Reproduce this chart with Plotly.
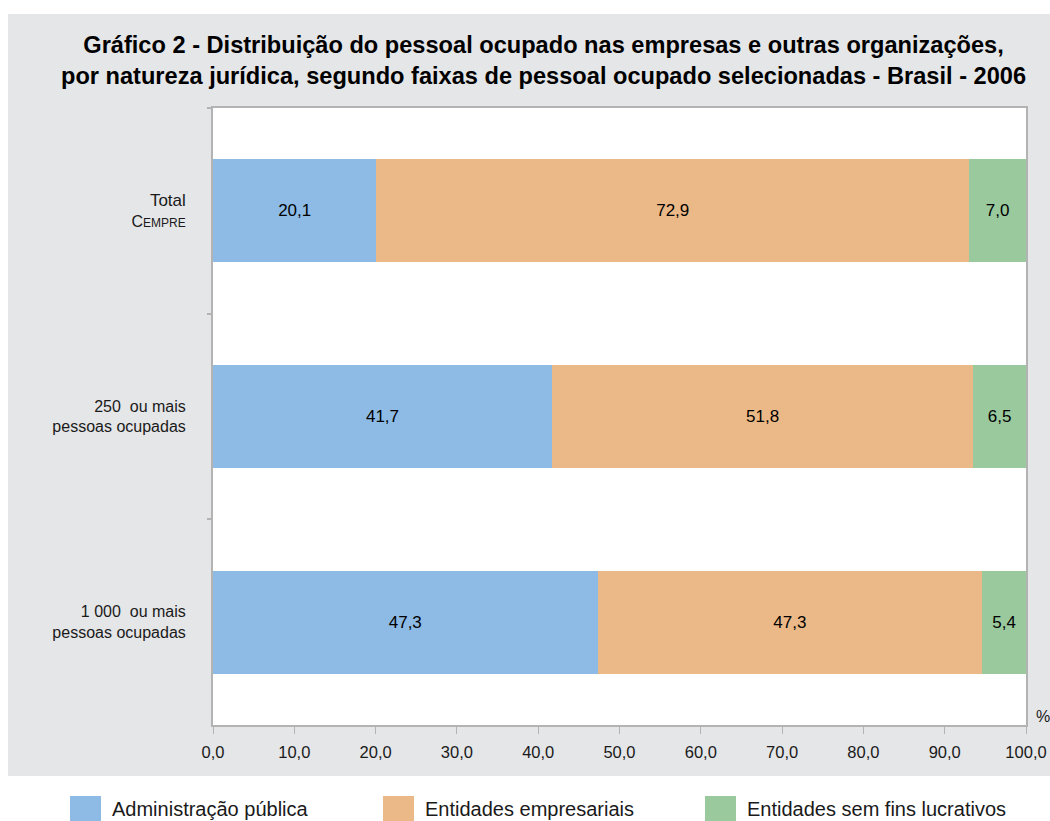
import plotly.graph_objects as go

categories = ["<span style='font-size:17px'>Total</span><br><span style='font-size:16px'>C</span><span style='font-size:12px'>EMPRE</span>",
              "250  ou mais<br>pessoas ocupadas",
              "1 000  ou mais<br>pessoas ocupadas"]
series_names = ["Administração pública", "Entidades empresariais", "Entidades sem fins lucrativos"]
adm_publica = [20.1, 41.7, 47.3]
ent_empresariais = [72.9, 51.8, 47.3]
ent_sem_fins = [7.0, 6.5, 5.4]
x_ticks = [0, 10, 20, 30, 40, 50, 60, 70, 80, 90, 100]
colors = ["#8dbbe6", "#ebb987", "#99c99d"]

W, H = 1050, 821
L, R, T, B = 213, 1026, 108, 725
pw, ph = R - L, B - T

def xp(px):
    return (px - L) / pw

def yp(py):
    return (B - py) / ph

font = "Liberation Sans, Arial, sans-serif"
fig = go.Figure()
for name, vals, col in zip(series_names, [adm_publica, ent_empresariais, ent_sem_fins], colors):
    fig.add_trace(go.Bar(
        y=categories, x=vals, name=name, orientation="h",
        marker=dict(color=col, line=dict(width=0)),
        texttemplate="%{x:.1f}", textposition="inside", insidetextanchor="middle",
        textangle=0, textfont=dict(size=17, color="black", family=font),
        width=0.5, showlegend=False,
    ))

shapes = [dict(type="rect", xref="paper", yref="paper", x0=xp(8), x1=xp(1060),
               y0=yp(776), y1=yp(14), fillcolor="#e5e6e8", line=dict(width=0), layer="below"),
          dict(type="rect", xref="paper", yref="paper", x0=0, x1=1, y0=0, y1=1,
               fillcolor="white", line=dict(width=0), layer="below")]
annotations = []
leg_sq = [70, 383, 705]
for sx, name, col in zip(leg_sq, series_names, colors):
    shapes.append(dict(type="rect", xref="paper", yref="paper", x0=xp(sx), x1=xp(sx + 31),
                       y0=yp(821), y1=yp(796), fillcolor=col, line=dict(width=0)))
    annotations.append(dict(text=name, xref="paper", yref="paper", x=xp(sx + 40), y=yp(809),
                            xanchor="left", yanchor="middle", showarrow=False,
                            font=dict(size=20, color="#1a1a1a", family=font)))
annotations.append(dict(text="%", xref="paper", yref="paper", x=xp(1043), y=yp(716),
                        xanchor="center", yanchor="middle", showarrow=False,
                        font=dict(size=16, color="#1a1a1a", family=font)))
annotations.append(dict(
    text="<b>Gráfico 2 - Distribuição do pessoal ocupado nas empresas e outras organizações,<br>"
         "por natureza jurídica, segundo faixas de pessoal ocupado selecionadas - Brasil - 2006</b>",
    xref="paper", yref="paper", x=xp(543), y=yp(60), xanchor="center", yanchor="middle",
    showarrow=False, align="center", font=dict(size=23.6, color="black", family=font)))

fig.update_layout(
    width=W, height=H,
    margin=dict(l=L, r=W - R, t=T, b=H - B, pad=0, autoexpand=False),
    paper_bgcolor="white", plot_bgcolor="white",
    barmode="stack", bargap=0.5,
    separators=", ",
    font=dict(family=font, size=16, color="#1a1a1a"),
    shapes=shapes, annotations=annotations,
    xaxis=dict(range=[0, 100], tickvals=x_ticks, tickformat=".1f", showgrid=False, zeroline=False,
               showline=True, linecolor="#b3b3b3", linewidth=2, mirror=True, automargin=False,
               ticks="outside", ticklen=7, tickcolor="#b3b3b3", tickwidth=1,
               ticklabelstandoff=4, tickfont=dict(size=16.5, color="#1a1a1a")),
    yaxis=dict(categoryorder="array", categoryarray=categories, autorange="reversed",
               showgrid=False, zeroline=False, showline=True, linecolor="#b3b3b3", linewidth=2,
               mirror=True, ticks="outside", ticklen=4, tickcolor="#b3b3b3", tickwidth=2,
               automargin=False,
               tickson="boundaries", ticklabelstandoff=22, tickfont=dict(size=16, color="#1a1a1a")),
)
fig.write_html("out.html", config={"displayModeBar": False},
               post_script="document.body.style.margin='0';document.body.style.overflow='hidden';")
